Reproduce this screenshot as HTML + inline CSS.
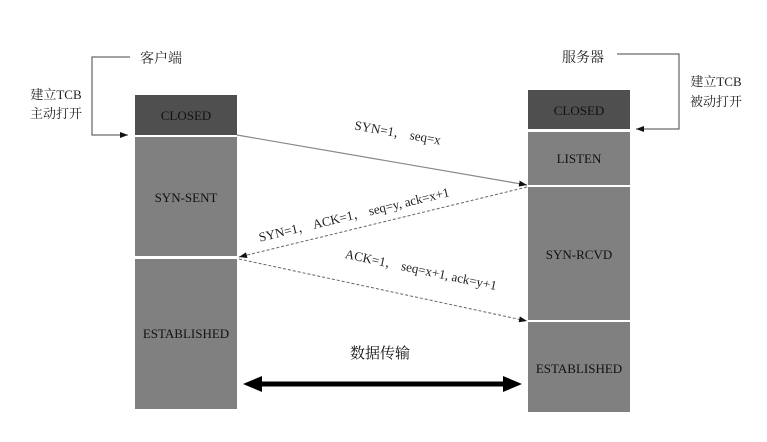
<!DOCTYPE html>
<html><head><meta charset="utf-8"><style>
html,body{margin:0;padding:0;background:#fff;}
svg{display:block;}
text{font-family:"Liberation Serif","Noto Serif CJK SC","Noto Sans CJK SC",serif;}
</style></head><body>
<svg width="767" height="442" viewBox="0 0 767 442" xmlns="http://www.w3.org/2000/svg">
<defs>
<marker id="a" markerWidth="8" markerHeight="6" refX="8" refY="3" orient="auto" markerUnits="userSpaceOnUse"><path d="M0,0 L8,3 L0,6z" fill="#111"/></marker>
</defs>
<!-- left column -->
<rect x="135" y="95" width="102" height="40" fill="#4f4f4f"/>
<rect x="135" y="137" width="102" height="119" fill="#808080"/>
<rect x="135" y="259" width="102" height="150" fill="#808080"/>
<!-- right column -->
<rect x="528" y="90" width="102" height="39" fill="#4f4f4f"/>
<rect x="528" y="132" width="102" height="53" fill="#808080"/>
<rect x="528" y="187" width="102" height="133" fill="#808080"/>
<rect x="528" y="322" width="102" height="90" fill="#808080"/>
<g font-size="13" fill="#111" text-anchor="middle">
<text x="186" y="120">CLOSED</text>
<text x="186" y="202">SYN-SENT</text>
<text x="186" y="338">ESTABLISHED</text>
<text x="579" y="115">CLOSED</text>
<text x="579" y="163">LISTEN</text>
<text x="579" y="259">SYN-RCVD</text>
<text x="579" y="373">ESTABLISHED</text>
</g>
<!-- brackets -->
<polyline points="130,57 92,57 92,135 128,135" fill="none" stroke="#444" stroke-width="1" marker-end="url(#a)"/>
<polyline points="617,54 679,54 679,129 636,129" fill="none" stroke="#444" stroke-width="1" marker-end="url(#a)"/>
<g font-size="14" fill="#222">
<text x="140" y="63">客户端</text>
<text x="562" y="62">服务器</text>
</g>
<g font-size="13" fill="#222" text-anchor="middle">
<text x="56" y="99">建立TCB</text>
<text x="56" y="118">主动打开</text>
<text x="716" y="86">建立TCB</text>
<text x="716" y="106">被动打开</text>
</g>
<!-- messages -->
<line x1="237" y1="135" x2="527" y2="185" stroke="#888" stroke-width="1.2" marker-end="url(#a)"/>
<line x1="527" y1="187" x2="239" y2="257" stroke="#666" stroke-width="1" stroke-dasharray="3,2" marker-end="url(#a)"/>
<line x1="239" y1="259" x2="527" y2="321" stroke="#666" stroke-width="1" stroke-dasharray="3,2" marker-end="url(#a)"/>
<g font-size="13" fill="#222" text-anchor="middle">
<text transform="translate(397,137) rotate(10)">SYN=1， seq=x</text>
<text transform="translate(355,219) rotate(-13.5)">SYN=1， ACK=1， seq=y, ack=x+1</text>
<text transform="translate(420,274) rotate(12)">ACK=1， seq=x+1, ack=y+1</text>
</g>
<text x="380" y="358" font-size="15" fill="#111" text-anchor="middle">数据传输</text>
<line x1="256" y1="384" x2="508" y2="384" stroke="#000" stroke-width="5"/>
<path d="M243,384 L262,376 L262,392z" fill="#000"/>
<path d="M522,384 L503,376 L503,392z" fill="#000"/>
</svg>
</body></html>
